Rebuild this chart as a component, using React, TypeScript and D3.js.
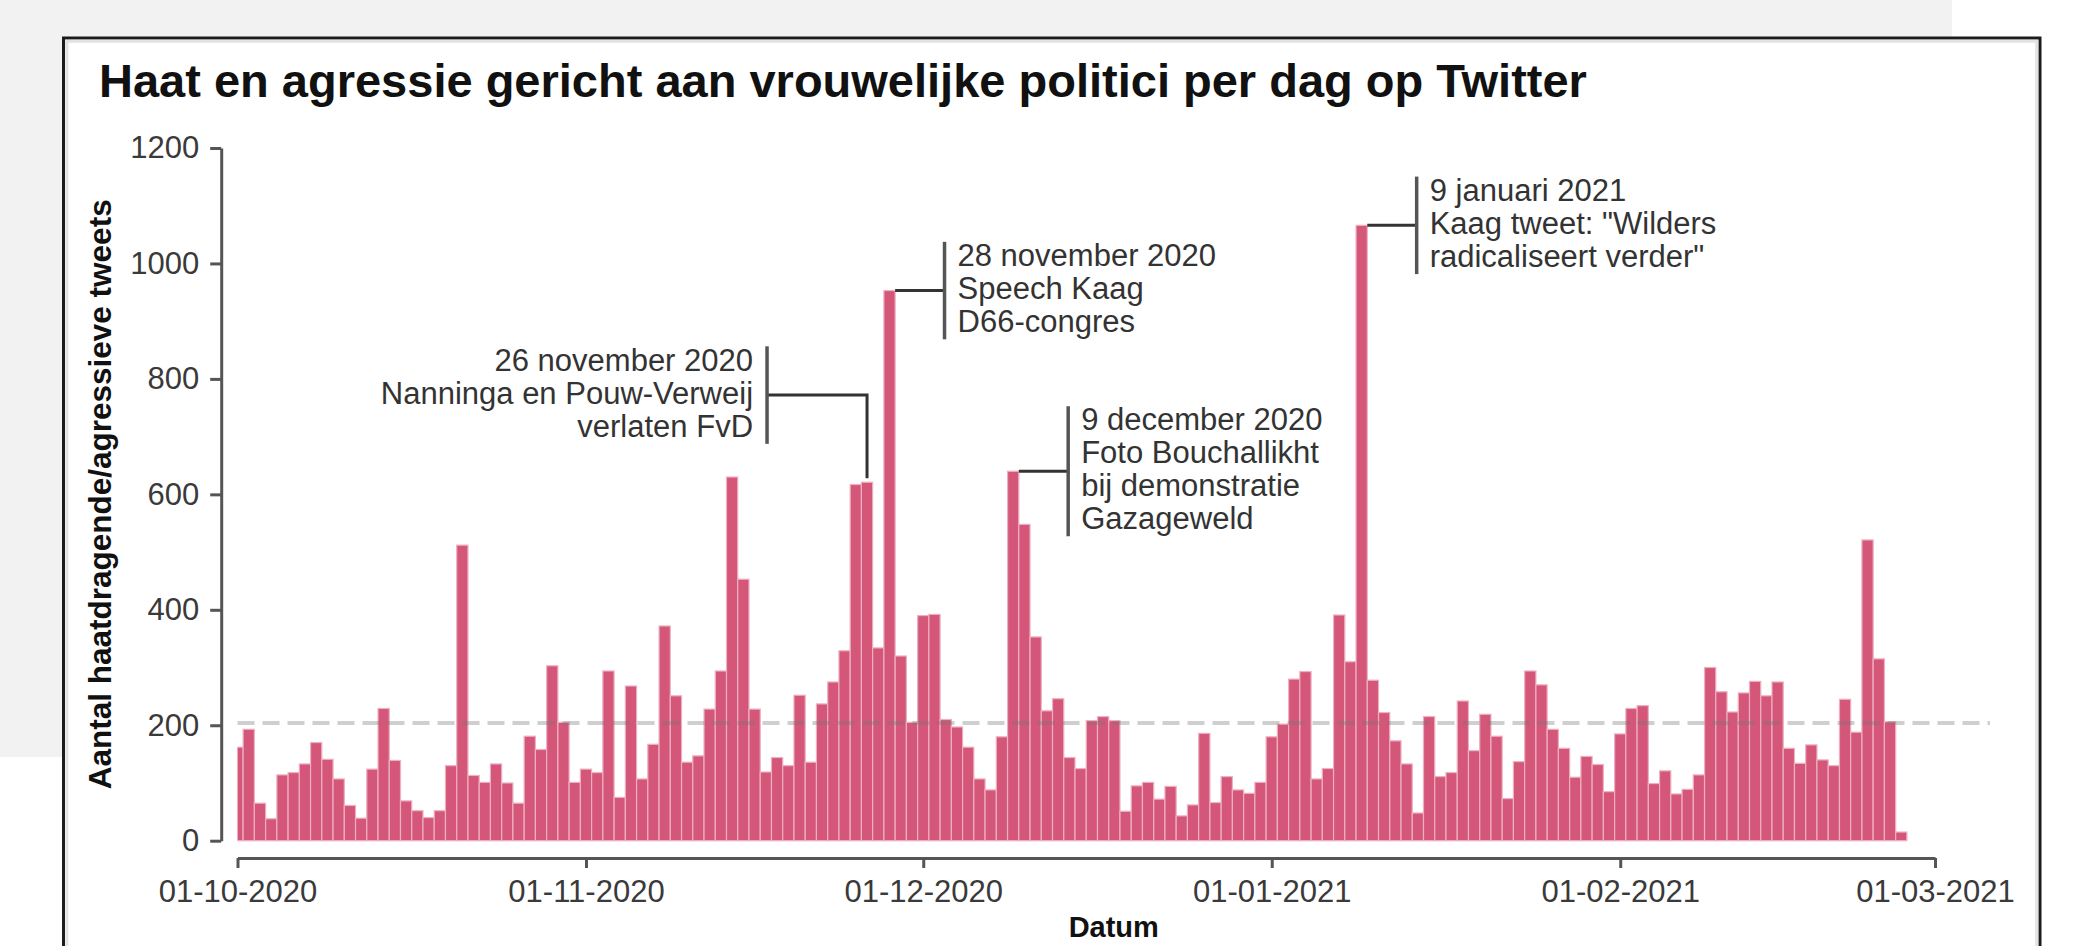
import { useEffect, useRef } from "react";
import * as d3 from "d3";

const WIDTH = 2078;
const HEIGHT = 946;
const FONT = "'Liberation Sans', Arial, Helvetica, sans-serif";

const startDate = "2020-10-01";
const axisEnd = "2021-03-01";

// haatdragende/agressieve tweets per dag
const tweetsOct = [
  162, 193, 65, 38, 114, 118, 133, 170, 141, 107, 61, 39, 124, 229, 139, 69,
  52, 40, 52, 130, 512, 113, 101, 133, 100, 65, 181, 158, 303, 205, 101,
];
const tweetsNov = [
  124, 118, 294, 75, 268, 107, 167, 372, 251, 136, 147, 228, 294, 630, 453,
  228, 119, 144, 130, 252, 136, 237, 275, 329, 617, 621, 334, 953, 320, 205,
];
const tweetsDec = [
  390, 392, 210, 197, 162, 107, 88, 180, 640, 548, 353, 225, 246, 144, 125,
  208, 215, 208, 51, 95, 101, 72, 94, 43, 62, 186, 66, 111, 88, 82, 101,
];
const tweetsJan = [
  180, 202, 280, 293, 107, 125, 391, 310, 1066, 278, 222, 173, 133, 48, 215,
  111, 118, 242, 156, 219, 181, 73, 137, 294, 270, 193, 160, 110, 146, 132, 85,
];
const tweetsFeb = [
  185, 229, 234, 99, 121, 81, 89, 114, 300, 258, 223, 256, 276, 251, 275, 160,
  134, 166, 140, 130, 245, 188, 521, 315, 206, 15,
];

const yTicks = [0, 200, 400, 600, 800, 1000, 1200];
const monthTicks = [
  "2020-10-01",
  "2020-11-01",
  "2020-12-01",
  "2021-01-01",
  "2021-02-01",
  "2021-03-01",
];

const title = "Haat en agressie gericht aan vrouwelijke politici per dag op Twitter";
const yTitle = "Aantal haatdragende/agressieve tweets";
const xTitle = "Datum";

const annotations = [
  {
    date: "2020-11-26",
    lines: ["26 november 2020", "Nanninga en Pouw-Verweij", "verlaten FvD"],
  },
  { date: "2020-11-28", lines: ["28 november 2020", "Speech Kaag", "D66-congres"] },
  {
    date: "2020-12-09",
    lines: ["9 december 2020", "Foto Bouchallikht", "bij demonstratie", "Gazageweld"],
  },
  {
    date: "2021-01-09",
    lines: ["9 januari 2021", 'Kaag tweet: "Wilders', 'radicaliseert verder"'],
  },
];

// where each label sits relative to its bar
const annotationPlacement = [
  { side: "left", offset: -100, elbow: 772 },
  { side: "right", offset: 55, elbow: null },
  { side: "right", offset: 55, elbow: null },
  { side: "right", offset: 55, elbow: null },
];

export default function App() {
  const svgRef = useRef<SVGSVGElement | null>(null);

  useEffect(() => {
    document.body.style.margin = "0";
    document.body.style.overflow = "hidden";

    const svg = d3.select(svgRef.current);
    svg.selectAll("*").remove();

    const parse = d3.utcParse("%Y-%m-%d");
    const t0 = parse(startDate)!;
    const values = [...tweetsOct, ...tweetsNov, ...tweetsDec, ...tweetsJan, ...tweetsFeb];
    const days = values.map((v, i) => ({ date: d3.utcDay.offset(t0, i), value: v }));
    const byDate = new Map(days.map((d) => [+d.date, d.value]));

    const plotLeft = 237.5;
    const panelRight = 1990;
    const x = d3.scaleUtc().domain([t0, parse(axisEnd)!]).range([plotLeft, 1935]);
    const y = d3.scaleLinear().domain([0, 1200]).range([840.7, 148]);
    const dayW = x(d3.utcDay.offset(t0, 1)) - x(t0);

    // background + frame
    svg.append("rect").attr("width", WIDTH).attr("height", HEIGHT).attr("fill", "#ffffff");
    svg.append("rect").attr("width", 1952).attr("height", 757).attr("fill", "#f2f2f2");
    svg
      .append("rect")
      .attr("x", 63.5)
      .attr("y", 38)
      .attr("width", 2040 - 63.5)
      .attr("height", 1000)
      .attr("fill", "#ffffff")
      .attr("stroke", "#1c1c1c")
      .attr("stroke-width", 3);
    svg
      .append("rect")
      .attr("x", 66.8)
      .attr("y", 41.3)
      .attr("width", 2040 - 63.5 - 6.6)
      .attr("height", 1000)
      .attr("fill", "none")
      .attr("stroke", "#e3e3e3")
      .attr("stroke-width", 3);

    svg
      .append("text")
      .attr("x", 99)
      .attr("y", 97)
      .attr("font-family", FONT)
      .attr("font-weight", "bold")
      .attr("font-size", 47)
      .attr("fill", "#111")
      .text(title);

    // bars
    svg
      .append("clipPath")
      .attr("id", "plot-clip")
      .append("rect")
      .attr("x", plotLeft)
      .attr("y", 0)
      .attr("width", WIDTH - plotLeft)
      .attr("height", HEIGHT);

    svg
      .append("g")
      .attr("clip-path", "url(#plot-clip)")
      .selectAll("rect")
      .data(days)
      .enter()
      .append("rect")
      .attr("x", (d) => x(d.date) - dayW / 2)
      .attr("y", (d) => y(d.value))
      .attr("width", dayW)
      .attr("height", (d) => y(0) - y(d.value))
      .attr("fill", "#d45679")
      .attr("stroke", "#eeb0c1")
      .attr("stroke-width", 1.2);

    // mean line
    const mean = d3.mean(values) ?? 0;
    svg
      .append("line")
      .attr("x1", plotLeft)
      .attr("x2", panelRight)
      .attr("y1", y(mean))
      .attr("y2", y(mean))
      .attr("stroke", "#767676")
      .attr("stroke-opacity", 0.35)
      .attr("stroke-width", 4)
      .attr("stroke-dasharray", "17 8");

    // axes
    const axisColor = "#555";
    const labelColor = "#3a3a3a";

    const gy = svg
      .append("g")
      .attr("transform", "translate(221.2,0)")
      .call(
        d3
          .axisLeft(y)
          .tickValues(yTicks)
          .tickFormat(d3.format("d"))
          .tickSize(11)
          .tickSizeOuter(0)
          .tickPadding(11)
      );
    gy.attr("font-family", FONT).attr("font-size", 31);
    gy.select(".domain").attr("stroke", axisColor).attr("stroke-width", 3);
    gy.selectAll(".tick line").attr("stroke", axisColor).attr("stroke-width", 3);
    gy.selectAll(".tick text").attr("fill", labelColor);

    const gx = svg
      .append("g")
      .attr("transform", "translate(0,858)")
      .call(
        d3
          .axisBottom(x)
          .tickValues(monthTicks.map((m) => parse(m)!))
          .tickFormat((d) => d3.utcFormat("%d-%m-%Y")(d as Date))
          .tickSize(10)
          .tickSizeOuter(0)
          .tickPadding(12)
      );
    gx.attr("font-family", FONT).attr("font-size", 31);
    gx.select(".domain").attr("stroke", axisColor).attr("stroke-width", 3);
    gx.selectAll(".tick line").attr("stroke", axisColor).attr("stroke-width", 3);
    gx.selectAll(".tick text").attr("fill", labelColor);

    svg
      .append("text")
      .attr("transform", `translate(111,${(y(0) + y(1200)) / 2}) rotate(-90)`)
      .attr("text-anchor", "middle")
      .attr("font-family", FONT)
      .attr("font-weight", "bold")
      .attr("font-size", 31.5)
      .attr("fill", "#111")
      .text(yTitle);

    svg
      .append("text")
      .attr("x", (plotLeft + panelRight) / 2)
      .attr("y", 937)
      .attr("text-anchor", "middle")
      .attr("font-family", FONT)
      .attr("font-weight", "bold")
      .attr("font-size", 29)
      .attr("fill", "#111")
      .text(xTitle);

    // annotations
    const lineH = 33;
    annotations.forEach((a, i) => {
      const place = annotationPlacement[i];
      const date = parse(a.date)!;
      const cx = x(date);
      const top = y(byDate.get(+date) ?? 0);
      const bx = cx + place.offset;
      const n = a.lines.length;
      let cy = top;
      let path = "";
      if (place.elbow !== null) {
        cy = y(place.elbow);
        path = `M${cx},${top - 4}V${cy}H${bx}`;
      } else {
        path = `M${cx + dayW / 2},${top}H${bx}`;
      }
      svg
        .append("path")
        .attr("d", path)
        .attr("fill", "none")
        .attr("stroke", "#333")
        .attr("stroke-width", 3);
      const half = (n * 32.5) / 2;
      svg
        .append("line")
        .attr("x1", bx)
        .attr("x2", bx)
        .attr("y1", cy - half)
        .attr("y2", cy + half)
        .attr("stroke", "#555")
        .attr("stroke-width", 3.5);

      const t = svg
        .append("text")
        .attr("font-family", FONT)
        .attr("font-size", 31)
        .attr("fill", "#333")
        .attr("text-anchor", place.side === "left" ? "end" : "start");
      const tx = place.side === "left" ? bx - 14 : bx + 13;
      const firstBase = cy - ((n - 1) * lineH) / 2 + 8.5;
      a.lines.forEach((line, j) => {
        t.append("tspan")
          .attr("x", tx)
          .attr("y", firstBase + j * lineH)
          .text(line);
      });
    });
  }, []);

  return (
    <svg
      ref={svgRef}
      width={WIDTH}
      height={HEIGHT}
      style={{ display: "block", position: "absolute", left: 0, top: 0 }}
    ></svg>
  );
}
